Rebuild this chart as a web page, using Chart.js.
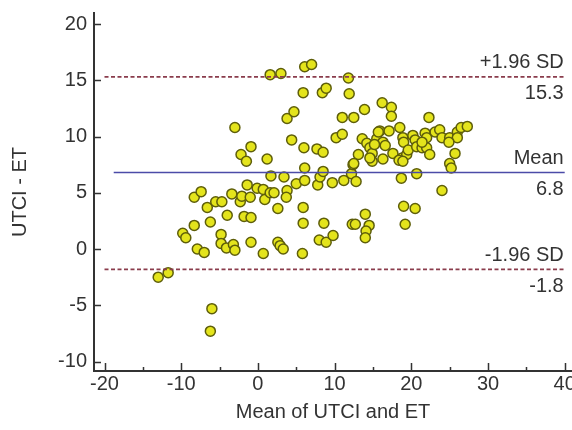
<!DOCTYPE html>
<html>
<head>
<meta charset="utf-8">
<script src="https://cdn.jsdelivr.net/npm/chart.js@4.4.1/dist/chart.umd.min.js"></script>
<style>
html, body { margin: 0; padding: 0; background: #fff; }
#wrap { width: 572px; height: 430px; }
</style>
</head>
<body>
<div id="wrap"><canvas id="myChart" width="572" height="430"></canvas></div>
<script>
// Bland-Altman: mean of the two methods (x) vs difference (y)
const meanValues = [
    -13.0, -11.7, -9.8, -9.4, -8.3, -7.9, -7.0, -8.3, -7.4, -6.6,
    -6.2, -5.5, -4.7, -4.0, -4.8, -4.8, -4.1, -3.2, -3.0, -3.4,
    -2.3, -2.1, -1.0, -1.4, -1.8, -0.9, -0.9, 0.7, -3.0, -0.9,
    -2.2, -1.5, -0.1, 0.7, 0.9, 1.6, 2.1, -6.0, -6.2,
    1.2, 1.7, 3.4, 3.8, 3.7, 2.6, 2.6, 2.9, 3.3, 5.0,
    6.1, 6.1, 5.9, 5.9, 5.8, 7.8, 8.1, 8.5, 9.7, 11.2,
    12.2, 12.4, 12.8, 8.6, 8.0, 8.9, 9.8, 12.3, 12.7, 14.0,
    14.5, 14.1, 14.0, 1.6, 3.0, 6.1, 7.0, 11.8, 5.9, 8.4,
    8.9, 11.9, 3.8, 4.7, 11.0, 12.5, 13.9, 10.2, 11.0, 4.4,
    6.0, 7.7, 8.5, 13.1, 12.5, 13.6, 14.2, 14.6, 14.9, 14.9,
    14.6,
    16.2, 17.4, 17.4, 22.3, 18.5, 15.9, 17.1, 15.5, 16.3, 16.6,
    18.9, 19.0, 20.2, 20.5, 21.8, 22.0, 23.1, 23.7, 24.0, 25.0,
    26.0, 26.5, 27.3, 26.0, 17.6, 16.3, 18.8, 19.4, 19.6, 20.7,
    21.4, 22.0, 22.4, 25.7, 25.0, 25.2, 18.7, 20.7, 24.0, 19.0,
    20.5, 19.2, 15.7, 21.4, 24.9, 15.2, 18.4, 18.9
];
const diffValues = [
    -2.5, -2.1, 1.4, 1.0, 2.1, 0.0, -0.3, 4.6, 5.1, 3.7,
    2.4, 4.2, 4.2, 3.0, 1.3, 0.5, 0.1, 0.4, -0.1, 4.9,
    4.2, 4.7, 4.6, 5.7, 2.9, 2.8, 0.6, -0.4, 10.8, 9.1,
    8.4, 7.8, 5.4, 5.3, 4.4, 5.0, 5.0, -5.3, -7.3,
    8.0, 6.5, 6.4, 5.2, 4.6, 3.6, 0.6, 0.3, 0.0, 5.8,
    6.1, 7.2, 3.7, 2.3, -0.4, 5.7, 6.4, 6.9, 5.9, 6.1,
    6.7, 7.5, 6.0, 2.3, 0.8, 0.6, 1.2, 2.2, 2.2, 3.1,
    2.1, 1.6, 1.0, 15.5, 15.6, 16.2, 16.4, 15.2, 13.9, 13.9,
    14.3, 13.8, 11.6, 12.2, 11.7, 11.7, 12.4, 9.9, 10.2, 9.7,
    9.0, 8.9, 8.6, 8.4, 7.6, 9.8, 9.4, 9.0, 8.5, 7.8,
    8.1,
    13.0, 12.6, 11.8, 11.7, 10.8, 10.5, 10.5, 9.8, 9.5, 9.2,
    9.9, 9.5, 10.1, 9.7, 10.3, 9.9, 10.4, 10.6, 9.9, 9.9,
    10.4, 10.8, 10.9, 9.9, 8.5, 8.0, 8.1, 8.4, 8.8, 9.1,
    9.0, 9.0, 8.4, 8.5, 7.6, 7.2, 6.3, 6.7, 5.2, 3.8,
    3.6, 2.2, 10.4, 9.5, 9.5, 9.3, 7.9, 7.8
];

const limitNames = ['+1.96 SD', 'Mean', '-1.96 SD'];
const limitValues = [15.3, 6.8, -1.8];
const limitStart = [-20, -18.8, -20];
const lineEnd = 40;

const xTicks = [-20, -10, 0, 10, 20, 30, 40];
const xMinorTicks = [-15, -5, 5, 15, 25, 35];
const yTicks = [-10, -5, 0, 5, 10, 15, 20];

const textColor = '#333333';
const fontFamily = '"Liberation Sans", Arial, sans-serif';

const points = meanValues.map((x, i) => ({ x: x, y: diffValues[i] }));

const lineSets = limitValues.map((v, i) => ({
    type: 'line',
    label: limitNames[i],
    data: [{ x: limitStart[i], y: v }, { x: lineEnd, y: v }],
    borderColor: i === 1 ? '#4b4ba8' : '#8a3c4c',
    borderWidth: i === 1 ? 1.6 : 1.8,
    borderDash: i === 1 ? [] : [4, 2.5],
    pointRadius: 0,
    fill: false,
    order: 0
}));

// ticks point inward and labels sit at fixed offsets, so they are drawn here
const axisDecor = {
    id: 'axisDecor',
    afterDraw(chart) {
        const { ctx, chartArea: area, scales: { x, y } } = chart;
        ctx.save();
        ctx.strokeStyle = '#333';
        ctx.lineWidth = 1.5;
        ctx.beginPath();
        yTicks.forEach(v => {
            const py = Math.round(y.getPixelForValue(v)) + 0.5;
            ctx.moveTo(area.left, py);
            ctx.lineTo(area.left + 7, py);
        });
        xTicks.forEach(v => {
            const px = Math.round(x.getPixelForValue(v)) + 0.5;
            ctx.moveTo(px, area.bottom);
            ctx.lineTo(px, area.bottom - 8);
        });
        xMinorTicks.forEach(v => {
            const px = Math.round(x.getPixelForValue(v)) + 0.5;
            ctx.moveTo(px, area.bottom);
            ctx.lineTo(px, area.bottom - 4);
        });
        ctx.stroke();

        ctx.fillStyle = textColor;
        ctx.font = '20px ' + fontFamily;
        ctx.textBaseline = 'middle';
        ctx.textAlign = 'right';
        yTicks.forEach(v => ctx.fillText(String(v), area.left - 7, y.getPixelForValue(v)));
        ctx.textAlign = 'center';
        xTicks.forEach(v => ctx.fillText(String(v), x.getPixelForValue(v), area.bottom + 13));

        ctx.textAlign = 'right';
        const rx = x.getPixelForValue(lineEnd) - 1;
        limitValues.forEach((v, i) => {
            const py = y.getPixelForValue(v);
            ctx.fillText(limitNames[i], rx, py - 14);
            ctx.fillText(v.toFixed(1), rx, py + 17);
        });
        ctx.restore();
    }
};

new Chart(document.getElementById('myChart'), {
    type: 'scatter',
    data: {
        datasets: [
            {
                label: 'UTCI - ET',
                data: points,
                backgroundColor: '#e4e41c',
                borderColor: '#5e5e0a',
                borderWidth: 1.5,
                pointRadius: 5,
                order: 1
            },
            ...lineSets
        ]
    },
    options: {
        responsive: false,
        animation: false,
        devicePixelRatio: 1,
        layout: { autoPadding: false, padding: { top: 13, right: 0, bottom: 0, left: 0 } },
        plugins: {
            legend: { display: false },
            tooltip: { enabled: false }
        },
        scales: {
            x: {
                type: 'linear',
                min: -21.37,
                max: 40.95,
                grid: { display: false },
                border: { display: true, color: '#333', width: 2 },
                ticks: { display: false },
                title: {
                    display: true,
                    text: 'Mean of UTCI and ET',
                    color: textColor,
                    font: { family: fontFamily, size: 20 },
                    padding: { top: 0, bottom: 6 }
                },
                afterFit(scale) { scale.height = 59; }
            },
            y: {
                type: 'linear',
                min: -10.84,
                max: 20.98,
                grid: { display: false },
                border: { display: true, color: '#333', width: 2 },
                ticks: { display: false },
                title: {
                    display: true,
                    text: 'UTCI - ET',
                    color: textColor,
                    font: { family: fontFamily, size: 20 },
                    padding: { top: 8, bottom: 0 }
                },
                afterFit(scale) { scale.width = 94; }
            }
        }
    },
    plugins: [axisDecor]
});
</script>
</body>
</html>
